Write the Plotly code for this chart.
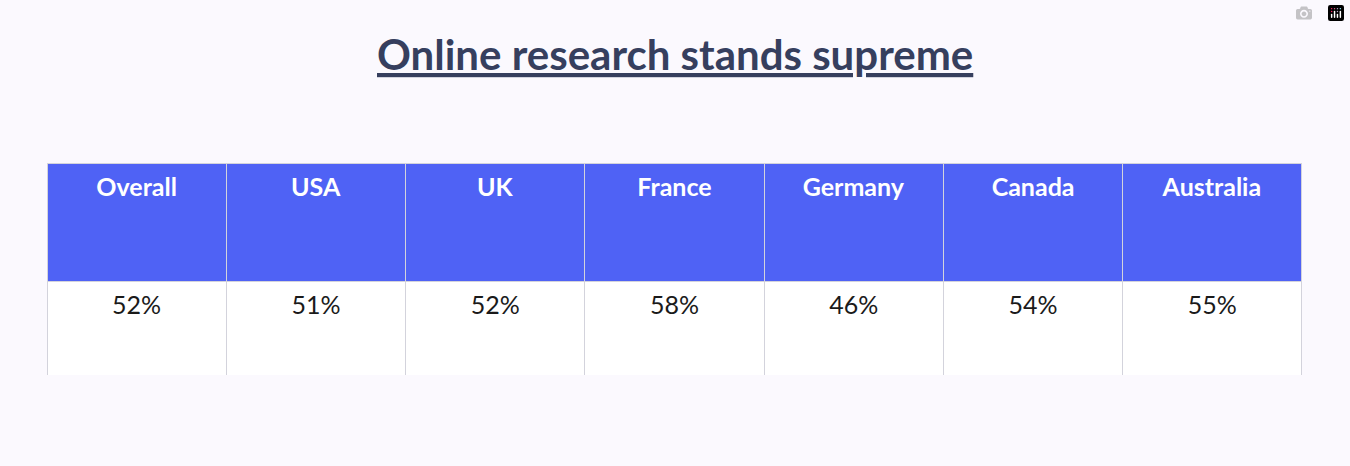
import plotly.graph_objects as go

countries = ["Overall", "USA", "UK", "France", "Germany", "Canada", "Australia"]
shares = ["52%", "51%", "52%", "58%", "46%", "54%", "55%"]
title = "Online research stands supreme"

bg = "#fbf9fe"
border = "#d3d3dc"

fig = go.Figure(go.Table(
    domain=dict(x=[47/1350, 1302/1350], y=[1 - 376/466, 1 - 163/466]),
    header=dict(values=[f"<br><b>{c}</b>" for c in countries],
                fill_color="#4f62f5", line_color=border, height=118,
                font=dict(color="white", size=25, family="Lato"), align="center"),
    cells=dict(values=[["<br>" + s] for s in shares],
               fill_color="white", line_color=border, height=94,
               font=dict(color="#1a1a1a", size=25, family="Lato"), align="center"),
))

fig.add_annotation(text=f"<b><u>{title}</u></b>", x=0.5, y=1 - 54/466,
                   xref="paper", yref="paper", showarrow=False, yanchor="middle",
                   font=dict(size=42, color="#363f5e", family="Lato"))

fig.update_layout(width=1350, height=466, margin=dict(l=0, r=0, t=0, b=0),
                  paper_bgcolor=bg, plot_bgcolor=bg)
fig.write_html("out.html")

with open("out.html") as f:
    page = f.read()
page = page.replace("<body>", f"<body style='margin:0;background:{bg}'>", 1)
with open("out.html", "w") as f:
    f.write(page)
